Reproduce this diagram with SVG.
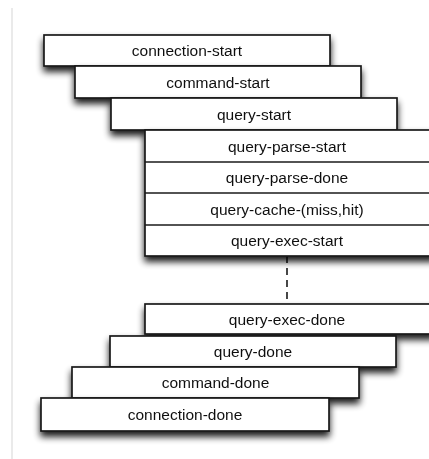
<svg xmlns="http://www.w3.org/2000/svg" width="429" height="459" viewBox="0 0 429 459">
<style>
.box{fill:#fff;stroke:#1a1a1a;stroke-width:1.7}
.div{stroke:#1a1a1a;stroke-width:1.7}
.lbl{font-family:"Liberation Sans",Arial,Helvetica,sans-serif;font-size:15.5px;fill:#111;text-anchor:middle}
.dash{stroke:#1a1a1a;stroke-width:1.6;stroke-dasharray:7 5;fill:none}
</style>
<defs>
<filter id="sh" x="-20%" y="-40%" width="140%" height="200%">
<feGaussianBlur in="SourceAlpha" stdDeviation="3.5"/>
<feOffset dx="0" dy="5" result="b"/>
<feComponentTransfer><feFuncA type="linear" slope="0.9"/></feComponentTransfer>
<feMerge><feMergeNode/><feMergeNode in="SourceGraphic"/></feMerge>
</filter>
</defs>
<rect width="429" height="459" fill="#fff"/>
<line x1="12" y1="8" x2="12" y2="459" stroke="#dcdcdc" stroke-width="1.2"/>
<g id="connectors">
<line class="dash" x1="287" y1="256" x2="287" y2="304"/>
</g>
<g id="connection-start" filter="url(#sh)">
<rect class="box" x="44" y="35" width="286" height="31"/>
<text class="lbl" x="187" y="56">connection-start</text>
</g>
<g id="command-start" filter="url(#sh)">
<rect class="box" x="75" y="66" width="286" height="32"/>
<text class="lbl" x="218" y="88">command-start</text>
</g>
<g id="query-start" filter="url(#sh)">
<rect class="box" x="111" y="98" width="286" height="32"/>
<text class="lbl" x="254" y="120">query-start</text>
</g>
<g id="query-exec-group" filter="url(#sh)">
<rect class="box" x="145" y="130" width="290" height="126"/>
<line class="div" x1="145" y1="162" x2="435" y2="162"/>
<line class="div" x1="145" y1="193" x2="435" y2="193"/>
<line class="div" x1="145" y1="225" x2="435" y2="225"/>
<text class="lbl" x="287" y="152">query-parse-start</text>
<text class="lbl" x="287" y="183">query-parse-done</text>
<text class="lbl" x="287" y="215">query-cache-(miss,hit)</text>
<text class="lbl" x="287" y="246">query-exec-start</text>
</g>
<g id="query-exec-done" filter="url(#sh)">
<rect class="box" x="145" y="304" width="290" height="30"/>
<text class="lbl" x="287" y="325">query-exec-done</text>
</g>
<g id="query-done" filter="url(#sh)">
<rect class="box" x="110" y="336" width="286" height="31"/>
<text class="lbl" x="253" y="357">query-done</text>
</g>
<g id="command-done" filter="url(#sh)">
<rect class="box" x="72" y="367" width="287" height="31"/>
<text class="lbl" x="215.5" y="388">command-done</text>
</g>
<g id="connection-done" filter="url(#sh)">
<rect class="box" x="41" y="398" width="288" height="33"/>
<text class="lbl" x="185" y="420">connection-done</text>
</g>
</svg>
